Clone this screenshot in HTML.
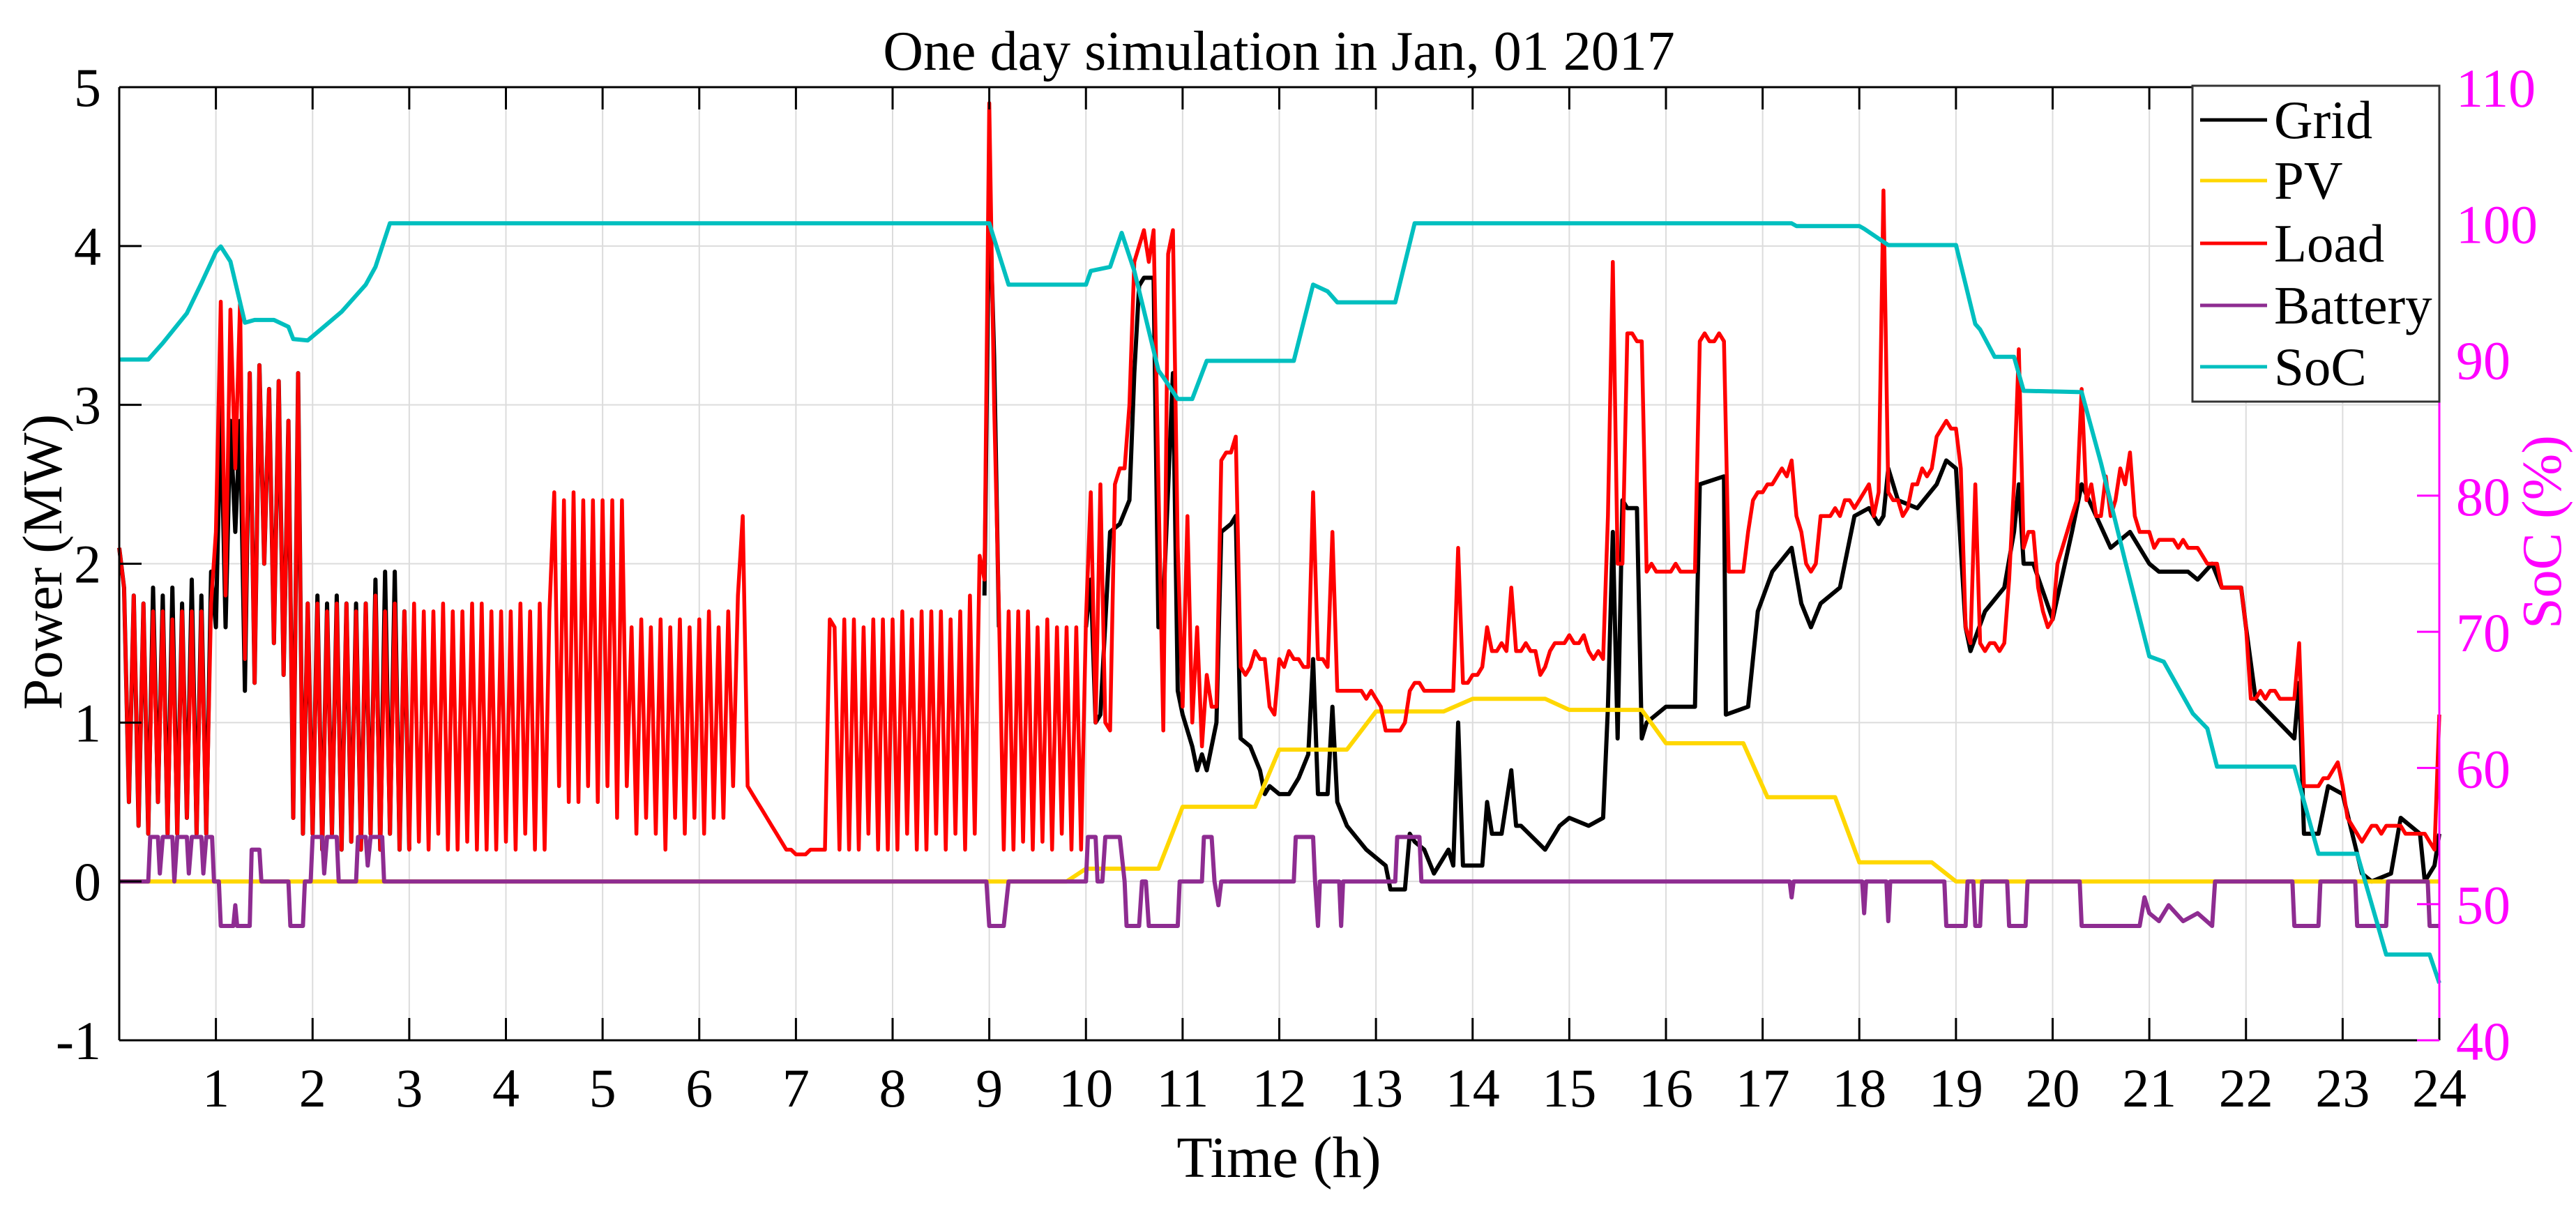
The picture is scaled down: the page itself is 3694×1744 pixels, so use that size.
<!DOCTYPE html>
<html><head><meta charset="utf-8"><title>One day simulation</title>
<style>html,body{margin:0;padding:0;background:#fff}svg{display:block}svg text{font-family:"Liberation Serif","Times New Roman",serif}</style>
</head><body>
<svg id="chart" xmlns="http://www.w3.org/2000/svg" width="3694" height="1744" viewBox="0 0 3694 1744" font-family="Liberation Serif, serif">
<rect width="3694" height="1744" fill="#fff"/>
<g id="grid"></g>
<g id="series"></g>
<g id="axes"></g>
<text x="1834" y="100" font-size="80" text-anchor="middle" font-family="Liberation Serif, serif">One day simulation in Jan, 01 2017</text>
<text x="1834" y="1688" font-size="84" text-anchor="middle" font-family="Liberation Serif, serif">Time (h)</text>
<text transform="translate(88,806) rotate(-90)" font-size="80" text-anchor="middle" font-family="Liberation Serif, serif">Power (MW)</text>
<text transform="translate(3672,763) rotate(-90)" font-size="80" text-anchor="middle" fill="#ff00ff" font-family="Liberation Serif, serif">SoC (%)</text>
<g font-family="Liberation Serif, serif">
<rect x="3144" y="123" width="354" height="453" fill="#fff" stroke="#333" stroke-width="3"/>
<g><line x1="3155" y1="172" x2="3251" y2="172" stroke="#000" stroke-width="5"/><text x="3261" y="198" font-size="77">Grid</text></g>
<g><line x1="3155" y1="259" x2="3251" y2="259" stroke="#ffd700" stroke-width="5"/><text x="3261" y="285" font-size="77">PV</text></g>
<g><line x1="3155" y1="349" x2="3251" y2="349" stroke="#ff0000" stroke-width="5"/><text x="3261" y="375" font-size="77">Load</text></g>
<g><line x1="3155" y1="438" x2="3251" y2="438" stroke="#8e2c91" stroke-width="5"/><text x="3261" y="464" font-size="77">Battery</text></g>
<g><line x1="3155" y1="526" x2="3251" y2="526" stroke="#00bfbf" stroke-width="5"/><text x="3261" y="552" font-size="77">SoC</text></g>
</g>
</svg>
<script>
const xTicks = [1,2,3,4,5,6,7,8,9,10,11,12,13,14,15,16,17,18,19,20,21,22,23,24];
const yTicks = [-1,0,1,2,3,4,5];
const socTicks = [40,50,60,70,80,90,100,110];
const loadStep = 0.05;
const loadValues = [
2.1,1.85,0.5,1.8,0.35,1.75,0.3,1.7,0.5,1.7,0.3,1.65,0.3,1.7,0.4,1.7,0.3,1.7,0.3,1.75,
2.2,3.65,1.8,3.6,2.6,3.65,1.4,3.2,1.25,3.25,2.0,3.1,1.5,3.15,1.3,2.9,0.4,3.2,0.3,1.75,
0.3,1.75,0.2,1.7,0.3,1.75,0.2,1.75,0.25,1.7,0.2,1.75,0.3,1.8,0.2,1.7,0.3,1.75,0.2,1.7,
0.2,1.75,0.25,1.7,0.2,1.7,0.3,1.75,0.2,1.7,0.2,1.7,0.25,1.75,0.2,1.75,0.2,1.7,0.2,1.7,
0.25,1.7,0.2,1.75,0.3,1.7,0.2,1.75,0.2,1.7,2.45,0.6,2.4,0.5,2.45,0.5,2.4,0.6,2.4,0.5,
2.4,0.6,2.4,0.4,2.4,0.6,1.6,0.3,1.65,0.4,1.6,0.3,1.65,0.2,1.6,0.4,1.65,0.3,1.6,0.4,
1.65,0.3,1.7,0.4,1.6,0.4,1.7,0.6,1.8,2.3,0.6,0.55,0.5,0.45,0.4,0.35,0.3,0.25,0.2,0.2,
0.17,0.17,0.17,0.2,0.2,0.2,0.2,1.65,1.6,0.2,1.65,0.2,1.65,0.2,1.6,0.3,1.65,0.2,1.65,0.2,
1.65,0.2,1.7,0.3,1.65,0.2,1.7,0.2,1.7,0.3,1.7,0.2,1.65,0.3,1.7,0.2,1.8,0.3,2.05,1.9,
4.9,3.0,1.7,0.2,1.7,0.2,1.7,0.25,1.7,0.2,1.6,0.25,1.65,0.2,1.6,0.3,1.6,0.2,1.6,0.2,
1.65,2.45,1.0,2.5,1.0,0.95,2.5,2.6,2.6,3.0,3.9,4.0,4.1,3.9,4.1,2.5,0.95,3.95,4.1,2.1,
1.1,2.3,1.0,1.6,0.85,1.3,1.1,1.1,2.65,2.7,2.7,2.8,1.35,1.3,1.35,1.45,1.4,1.4,1.1,1.05,
1.4,1.35,1.45,1.4,1.4,1.35,1.35,2.45,1.4,1.4,1.35,2.2,1.2,1.2,1.2,1.2,1.2,1.2,1.15,1.2,
1.15,1.1,0.95,0.95,0.95,0.95,1.0,1.2,1.25,1.25,1.2,1.2,1.2,1.2,1.2,1.2,1.2,2.1,1.25,1.25,
1.3,1.3,1.35,1.6,1.45,1.45,1.5,1.45,1.85,1.45,1.45,1.5,1.45,1.45,1.3,1.35,1.45,1.5,1.5,1.5,
1.55,1.5,1.5,1.55,1.45,1.4,1.45,1.4,2.3,3.9,2.0,2.0,3.45,3.45,3.4,3.4,1.95,2.0,1.95,1.95,
1.95,1.95,2.0,1.95,1.95,1.95,1.95,3.4,3.45,3.4,3.4,3.45,3.4,1.95,1.95,1.95,1.95,2.2,2.4,2.45,
2.45,2.5,2.5,2.55,2.6,2.55,2.65,2.3,2.2,2.0,1.95,2.0,2.3,2.3,2.3,2.35,2.3,2.4,2.4,2.35,
2.4,2.45,2.5,2.3,2.45,4.35,2.45,2.4,2.4,2.3,2.35,2.5,2.5,2.6,2.55,2.6,2.8,2.85,2.9,2.85,
2.85,2.6,1.6,1.5,2.5,1.5,1.45,1.5,1.5,1.45,1.5,1.9,2.5,3.35,2.1,2.2,2.2,1.85,1.7,1.6,
1.65,2.0,2.1,2.2,2.3,2.4,3.1,2.4,2.5,2.3,2.3,2.55,2.3,2.4,2.6,2.5,2.7,2.3,2.2,2.2,
2.2,2.1,2.15,2.15,2.15,2.15,2.1,2.15,2.1,2.1,2.1,2.05,2.0,2.0,2.0,1.85,1.85,1.85,1.85,1.85,
1.6,1.15,1.15,1.2,1.15,1.2,1.2,1.15,1.15,1.15,1.15,1.5,0.6,0.6,0.6,0.6,0.65,0.65,0.7,0.75,
0.6,0.4,0.35,0.3,0.25,0.3,0.35,0.35,0.3,0.35,0.35,0.35,0.35,0.3,0.3,0.3,0.3,0.3,0.25,0.2,
1.05];
const gridEarlyValues = [
2.1,1.85,0.5,1.8,0.35,1.75,0.3,1.85,0.5,1.8,0.3,1.85,0.3,1.75,0.4,1.9,0.3,1.8,0.3,1.95,
1.6,3.0,1.6,2.9,2.2,2.9,1.2,3.2,1.25,3.25,2.0,3.1,1.5,3.15,1.3,2.9,0.4,3.2,0.3,1.75,
0.3,1.8,0.2,1.75,0.3,1.8,0.2,1.75,0.25,1.75,0.2,1.75,0.3,1.9,0.2,1.95,0.3,1.95,0.2,1.7,
0.2];
const gridSpike = [[8.95,1.8],[9.0,4.4],[9.05,3.3],[9.1,1.6]];
const gridLate = [[10.0,1.6],[10.05,1.9],[10.1,1.0],[10.15,1.05],[10.25,2.2],[10.35,2.25],[10.45,2.4],[10.5,3.2],[10.55,3.75],[10.6,3.8],[10.7,3.8],[10.75,1.6],[10.8,1.75],[10.9,3.2],[10.95,1.2],[11.0,1.05],[11.1,0.85],[11.15,0.7],[11.2,0.8],[11.25,0.7],[11.35,1.0],[11.4,2.2],[11.5,2.25],[11.55,2.3],[11.6,0.9],[11.7,0.85],[11.8,0.7],[11.85,0.55],[11.9,0.6],[12.0,0.55],[12.1,0.55],[12.2,0.65],[12.3,0.8],[12.35,1.4],[12.4,0.55],[12.5,0.55],[12.55,1.1],[12.6,0.5],[12.7,0.35],[12.9,0.2],[13.0,0.15],[13.1,0.1],[13.15,-0.05],[13.3,-0.05],[13.35,0.3],[13.4,0.25],[13.5,0.2],[13.6,0.05],[13.75,0.2],[13.8,0.1],[13.85,1.0],[13.9,0.1],[14.0,0.1],[14.1,0.1],[14.15,0.5],[14.2,0.3],[14.3,0.3],[14.4,0.7],[14.45,0.35],[14.5,0.35],[14.75,0.2],[14.9,0.35],[15.0,0.4],[15.2,0.35],[15.35,0.4],[15.4,1.1],[15.45,2.2],[15.5,0.9],[15.55,2.4],[15.6,2.35],[15.7,2.35],[15.75,0.9],[15.8,1.0],[16.0,1.1],[16.3,1.1],[16.35,2.5],[16.6,2.55],[16.62,1.05],[16.85,1.1],[16.95,1.7],[17.1,1.95],[17.3,2.1],[17.4,1.75],[17.5,1.6],[17.6,1.75],[17.8,1.85],[17.95,2.3],[18.1,2.35],[18.2,2.25],[18.25,2.3],[18.3,2.6],[18.4,2.4],[18.6,2.35],[18.8,2.5],[18.9,2.65],[19.0,2.6],[19.1,1.6],[19.15,1.45],[19.3,1.7],[19.5,1.85],[19.6,2.2],[19.65,2.5],[19.7,2.0],[19.8,2.0],[20.0,1.65],[20.2,2.2],[20.3,2.5],[20.45,2.3],[20.6,2.1],[20.8,2.2],[21.0,2.0],[21.1,1.95],[21.4,1.95],[21.5,1.9],[21.65,2.0],[21.75,1.85],[21.95,1.85],[22.0,1.6],[22.1,1.15],[22.5,0.9],[22.55,1.25],[22.6,0.3],[22.75,0.3],[22.85,0.6],[23.0,0.55],[23.1,0.3],[23.2,0.05],[23.3,0.0],[23.5,0.05],[23.6,0.4],[23.8,0.3],[23.85,0.0],[23.95,0.1],[24.0,0.3]];
const pvPoints = [[0,0],[9.8,0],[10.0,0.08],[10.75,0.08],[11.0,0.47],[11.75,0.47],[12.0,0.83],[12.7,0.83],[13.0,1.07],[13.7,1.07],[14.0,1.15],[14.75,1.15],[15.0,1.08],[15.75,1.08],[16.0,0.87],[16.8,0.87],[17.05,0.53],[17.75,0.53],[18.0,0.12],[18.75,0.12],[19.0,0],[24,0]];
const batteryPoints = [[0,0],[0.3,0],[0.32,0.28],[0.4,0.28],[0.42,0.05],[0.45,0.28],[0.55,0.28],[0.57,0],[0.6,0.28],[0.7,0.28],[0.72,0.05],[0.75,0.28],[0.85,0.28],[0.87,0.05],[0.9,0.28],[0.96,0.28],[0.98,0],[1.03,0],[1.05,-0.28],[1.18,-0.28],[1.2,-0.15],[1.22,-0.28],[1.35,-0.28],[1.37,0.2],[1.45,0.2],[1.47,0],[1.75,0],[1.77,-0.28],[1.9,-0.28],[1.92,0],[1.98,0],[2.0,0.28],[2.1,0.28],[2.12,0.05],[2.15,0.28],[2.25,0.28],[2.27,0],[2.45,0],[2.47,0.28],[2.55,0.28],[2.57,0.1],[2.6,0.28],[2.72,0.28],[2.74,0],[8.97,0],[9.0,-0.28],[9.15,-0.28],[9.2,0],[10.0,0],[10.02,0.28],[10.1,0.28],[10.12,0],[10.17,0],[10.2,0.28],[10.35,0.28],[10.4,0],[10.42,-0.28],[10.55,-0.28],[10.58,0],[10.62,0],[10.65,-0.28],[10.95,-0.28],[10.97,0],[11.2,0],[11.22,0.28],[11.3,0.28],[11.33,0],[11.37,-0.15],[11.4,0],[12.15,0],[12.17,0.28],[12.35,0.28],[12.37,0],[12.4,-0.28],[12.42,0],[12.62,0],[12.64,-0.28],[12.66,0],[13.2,0],[13.22,0.28],[13.45,0.28],[13.47,0],[17.28,0],[17.3,-0.1],[17.32,0],[18.03,0],[18.05,-0.2],[18.07,0],[18.28,0],[18.3,-0.25],[18.32,0],[18.88,0],[18.9,-0.28],[19.1,-0.28],[19.12,0],[19.18,0],[19.2,-0.28],[19.25,-0.28],[19.27,0],[19.53,0],[19.55,-0.28],[19.72,-0.28],[19.74,0],[20.28,0],[20.3,-0.28],[20.9,-0.28],[20.95,-0.1],[21.0,-0.2],[21.1,-0.25],[21.2,-0.15],[21.35,-0.25],[21.5,-0.2],[21.65,-0.28],[21.68,0],[22.48,0],[22.5,-0.28],[22.75,-0.28],[22.77,0],[23.13,0],[23.15,-0.28],[23.45,-0.28],[23.47,0],[23.88,0],[23.9,-0.28],[24.0,-0.28]];
const socPoints = [[0,90],[0.3,90],[0.45,91.2],[0.7,93.4],[0.85,95.6],[1.0,97.9],[1.05,98.3],[1.15,97.2],[1.3,92.7],[1.4,92.9],[1.6,92.9],[1.75,92.4],[1.8,91.5],[1.95,91.4],[2.1,92.3],[2.3,93.5],[2.55,95.5],[2.65,96.8],[2.8,100],[9.0,100],[9.2,95.5],[10.0,95.5],[10.05,96.5],[10.25,96.8],[10.37,99.3],[10.5,96.5],[10.75,89.2],[10.8,88.7],[10.95,87.1],[11.1,87.1],[11.25,89.9],[12.15,89.9],[12.35,95.5],[12.5,95.0],[12.6,94.2],[13.2,94.2],[13.4,100],[17.3,100],[17.35,99.8],[18.0,99.8],[18.05,99.6],[18.3,98.4],[19.0,98.4],[19.2,92.6],[19.25,92.2],[19.4,90.2],[19.6,90.2],[19.7,87.7],[20.3,87.6],[20.5,82.4],[20.75,75.2],[21.0,68.2],[21.15,67.8],[21.45,64.0],[21.6,62.9],[21.7,60.1],[22.5,60.1],[22.75,53.7],[23.15,53.7],[23.45,46.3],[23.9,46.3],[24.0,44.2]];

const L=171, R=3498, T=125, B=1492;
function X(h){ return L + h*(R-L)/24; }
function Y(v){ return T + (5-v)*(B-T)/6; }
function YS(s){ return B - (s-40)*(B-T)/70; }
const NS='http://www.w3.org/2000/svg';
function mk(tag, attrs, parent){ const e=document.createElementNS(NS,tag); for(const k in attrs) e.setAttribute(k, attrs[k]); parent.appendChild(e); return e; }
const gGrid=document.getElementById('grid'), gSer=document.getElementById('series'), gAx=document.getElementById('axes');

xTicks.forEach(h=>{
  const l=mk('line',{x1:X(h),x2:X(h),y1:T,y2:B,stroke:'#dcdcdc','stroke-width':2},gGrid);
  
  
});
yTicks.forEach(v=>{
  const l=mk('line',{x1:L,x2:R,y1:Y(v),y2:Y(v),stroke:'#dcdcdc','stroke-width':2},gGrid);
  
  
});

function pathFromPoints(pts, yf){ return pts.map((p,i)=>(i?'L':'M')+X(p[0]).toFixed(1)+' '+yf(p[1]).toFixed(1)).join(' '); }
function stepPoints(vals, start){ return vals.map((v,i)=>[start+i*loadStep, v]); }
function addLine(d, color, name, w){
  const p=mk('path',{d:d,fill:'none',stroke:color,'stroke-width':w||6,'stroke-linejoin':'round'},gSer);
  
  
}
addLine(pathFromPoints(stepPoints(gridEarlyValues,0),Y),'#000','grid-line-early');
addLine(pathFromPoints(gridSpike,Y),'#000','grid-line-spike');
addLine(pathFromPoints(gridLate,Y),'#000','grid-line');
addLine(pathFromPoints(pvPoints,Y),'#ffd700','pv-line');
addLine(pathFromPoints(stepPoints(loadValues,0),Y),'#ff0000','load-line',5.5);
addLine(pathFromPoints(batteryPoints,Y),'#8e2c91','battery-line');
addLine(pathFromPoints(socPoints,YS),'#00bfbf','soc-line');

[[L,T,R,T,'#000','top-axis'],[L,T,L,B,'#000','y-axis'],[L,B,R,B,'#000','x-axis'],[R,T,R,B,'#ff00ff','y2-axis']].forEach(a=>{
  const l=mk('line',{x1:a[0],y1:a[1],x2:a[2],y2:a[3],stroke:a[4],'stroke-width':3},gAx);
  
  
});
xTicks.forEach(h=>{
  mk('line',{x1:X(h),x2:X(h),y1:B,y2:B-32,stroke:'#000','stroke-width':3},gAx);
  mk('line',{x1:X(h),x2:X(h),y1:T,y2:T+32,stroke:'#000','stroke-width':3},gAx);
  const t=mk('text',{x:X(h),y:1587,'font-size':78,'text-anchor':'middle','font-family':'Liberation Serif, serif'},gAx);
  t.textContent=String(h);
  
  
});
yTicks.forEach(v=>{
  mk('line',{x1:L,x2:L+32,y1:Y(v),y2:Y(v),stroke:'#000','stroke-width':3},gAx);
  const t=mk('text',{x:145,y:Y(v)+27,'font-size':78,'text-anchor':'end','font-family':'Liberation Serif, serif'},gAx);
  t.textContent=String(v);
  
  
});
socTicks.forEach(s=>{
  mk('line',{x1:R,x2:R-32,y1:YS(s),y2:YS(s),stroke:'#ff00ff','stroke-width':3},gAx);
  const t=mk('text',{x:3522,y:YS(s)+28,'font-size':78,fill:'#ff00ff','font-family':'Liberation Serif, serif'},gAx);
  t.textContent=String(s);
  
  
});
</script>
</body></html>
